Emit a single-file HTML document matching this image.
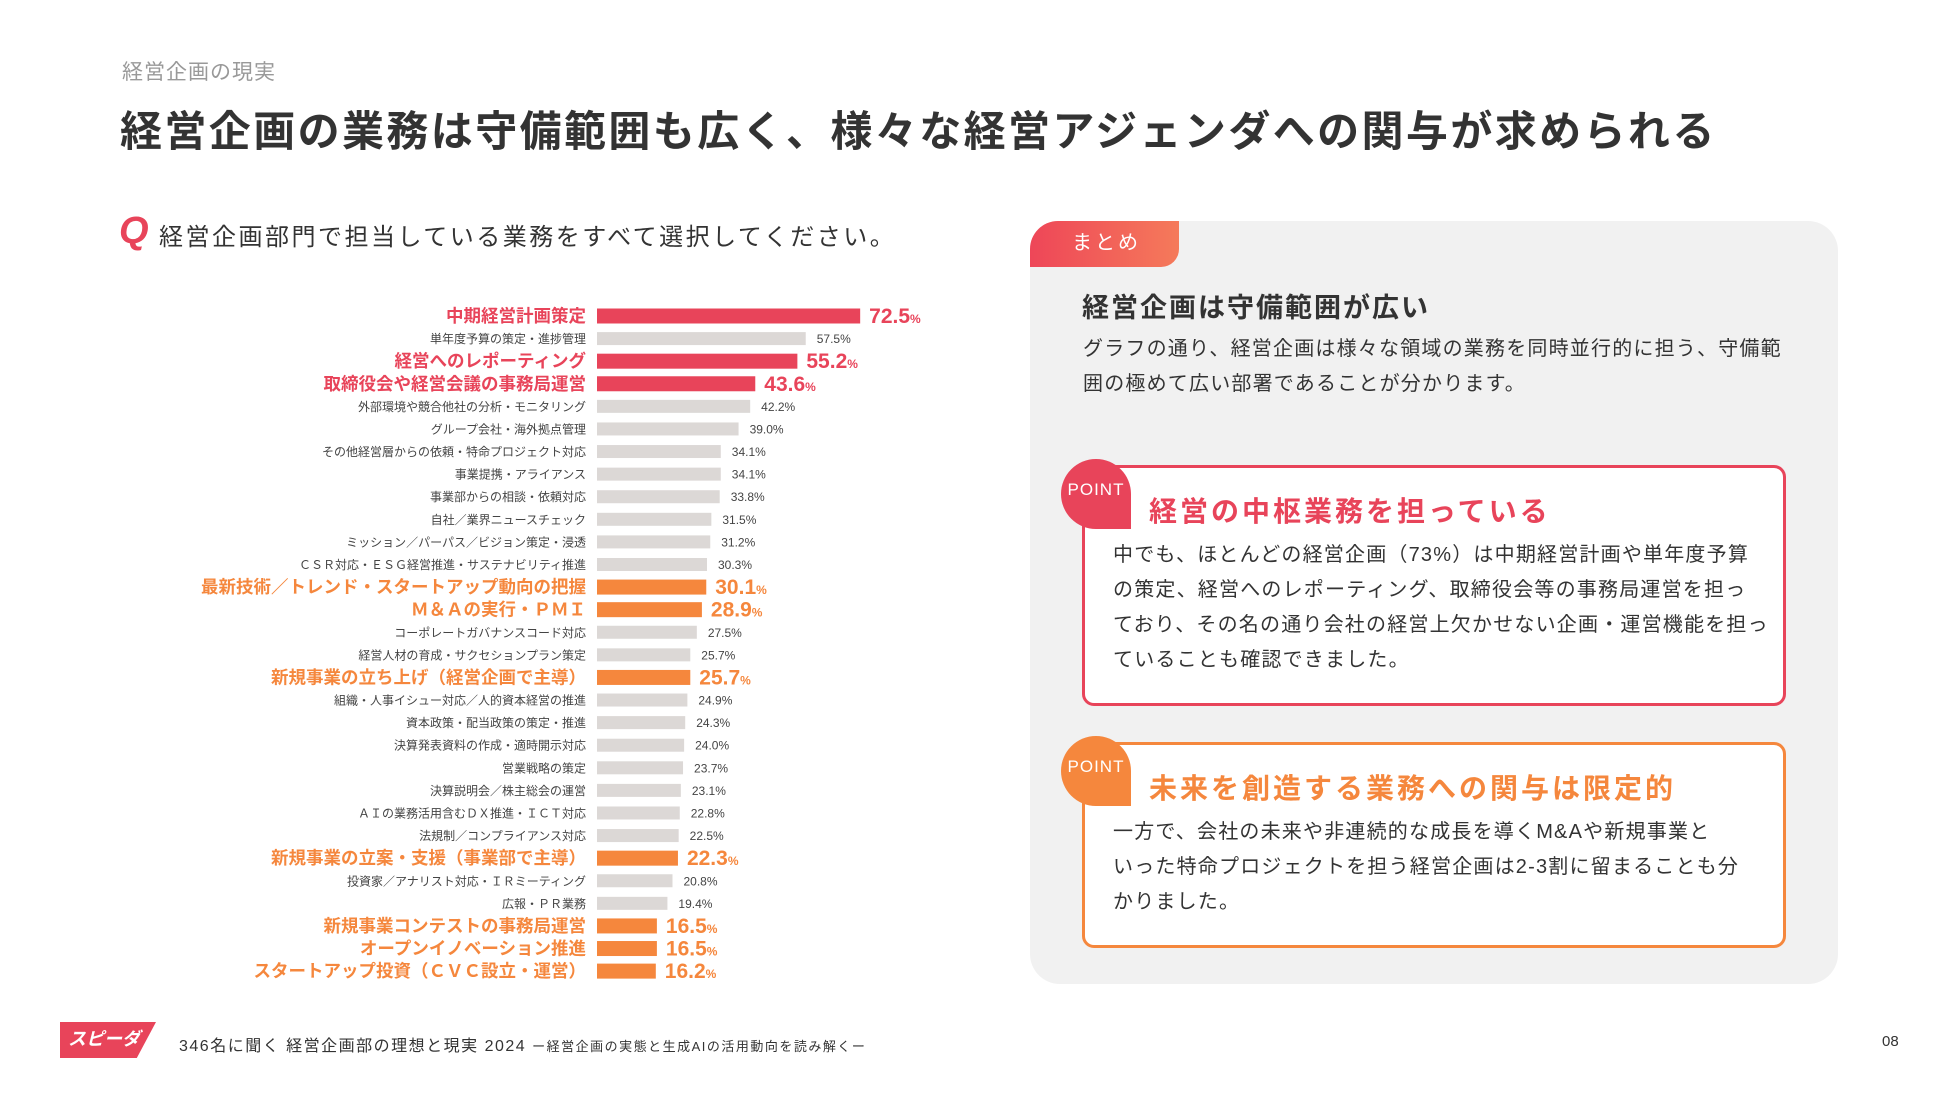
<!DOCTYPE html>
<html><head><meta charset="utf-8">
<style>
*{margin:0;padding:0;box-sizing:border-box}
body{width:1950px;height:1097px;background:#fff;position:relative;overflow:hidden;font-family:"Liberation Sans","Noto Sans CJK JP",sans-serif;color:#333}
.abs{position:absolute;white-space:nowrap}
.p{font-size:20px;line-height:35px;letter-spacing:1.2px;color:#333}
.badge{position:absolute;width:70px;height:70px;border-radius:50% 50% 0 50%;color:#fff;font-size:17px;text-align:center;line-height:62px;letter-spacing:1px}
</style></head><body>
<div class="abs" style="left:122px;top:56px;font-size:21px;color:#999;letter-spacing:1px">経営企画の現実</div>
<div class="abs" style="left:120px;top:98px;font-size:42px;font-weight:bold;color:#333;letter-spacing:2.4px">経営企画の業務は守備範囲も広く、様々な経営アジェンダへの関与が求められる</div>
<div class="abs" style="left:119px;top:210px;font-size:38px;font-weight:bold;color:#e8445a;font-style:italic">Q</div>
<div class="abs" style="left:159px;top:217px;font-size:24px;color:#333;letter-spacing:2.5px">経営企画部門で担当している業務をすべて選択してください。</div>

<svg id="chart" style="position:absolute;left:0;top:0" width="1000" height="1000"></svg>

<div style="position:absolute;left:1030px;top:221px;width:808px;height:763px;background:#f1f1f1;border-radius:30px"></div>
<div class="abs" style="left:1030px;top:221px;width:149px;height:46px;background:linear-gradient(90deg,#ee4658,#f57a5a);border-radius:28px 0 18px 0;color:#fff;font-size:20px;line-height:44px;padding-left:42px;letter-spacing:3px">まとめ</div>
<div class="abs" style="left:1082px;top:286px;font-size:27px;font-weight:bold;color:#333;letter-spacing:2px">経営企画は守備範囲が広い</div>
<div class="abs p" style="left:1083px;top:332px">グラフの通り、経営企画は様々な領域の業務を同時並行的に担う、守備範<br>囲の極めて広い部署であることが分かります。</div>

<div style="position:absolute;left:1082px;top:465px;width:704px;height:241px;background:#fff;border:3px solid #e8445a;border-radius:12px"></div>
<div class="badge" style="left:1061px;top:459px;background:#e8445a">POINT</div>
<div class="abs" style="left:1149px;top:490px;font-size:28px;font-weight:bold;color:#e8445a;letter-spacing:3px">経営の中枢業務を担っている</div>
<div class="abs p" style="left:1113px;top:538px">中でも、ほとんどの経営企画（73%）は中期経営計画や単年度予算<br>の策定、経営へのレポーティング、取締役会等の事務局運営を担っ<br>ており、その名の通り会社の経営上欠かせない企画・運営機能を担っ<br>ていることも確認できました。</div>

<div style="position:absolute;left:1082px;top:742px;width:704px;height:206px;background:#fff;border:3px solid #f5873d;border-radius:12px"></div>
<div class="badge" style="left:1061px;top:736px;background:#f5873d">POINT</div>
<div class="abs" style="left:1149px;top:767px;font-size:28px;font-weight:bold;color:#f5873d;letter-spacing:3px">未来を創造する業務への関与は限定的</div>
<div class="abs p" style="left:1113px;top:815px">一方で、会社の未来や非連続的な成長を導くM&amp;Aや新規事業と<br>いった特命プロジェクトを担う経営企画は2-3割に留まることも分<br>かりました。</div>

<div class="abs" style="left:60px;top:1022px;width:96px;height:36px;background:#e8445a;clip-path:polygon(0 0,100% 0,80% 100%,0 100%);color:#fff;font-size:18px;font-weight:bold;font-style:italic;line-height:34px;padding-left:8px">スピーダ</div>
<div class="abs" style="left:179px;top:1032px;font-size:16px;color:#333;letter-spacing:1.5px">346名に聞く 経営企画部の理想と現実 2024 <span style="font-size:13px">ー経営企画の実態と生成AIの活用動向を読み解くー</span></div>
<div class="abs" style="left:1882px;top:1033px;font-size:15px;color:#333">08</div>

<script>
const categories=["中期経営計画策定","単年度予算の策定・進捗管理","経営へのレポーティング","取締役会や経営会議の事務局運営","外部環境や競合他社の分析・モニタリング","グループ会社・海外拠点管理","その他経営層からの依頼・特命プロジェクト対応","事業提携・アライアンス","事業部からの相談・依頼対応","自社／業界ニュースチェック","ミッション／パーパス／ビジョン策定・浸透","ＣＳＲ対応・ＥＳＧ経営推進・サステナビリティ推進","最新技術／トレンド・スタートアップ動向の把握","Ｍ＆Ａの実行・ＰＭＩ","コーポレートガバナンスコード対応","経営人材の育成・サクセションプラン策定","新規事業の立ち上げ（経営企画で主導）","組織・人事イシュー対応／人的資本経営の推進","資本政策・配当政策の策定・推進","決算発表資料の作成・適時開示対応","営業戦略の策定","決算説明会／株主総会の運営","ＡＩの業務活用含むＤＸ推進・ＩＣＴ対応","法規制／コンプライアンス対応","新規事業の立案・支援（事業部で主導）","投資家／アナリスト対応・ＩＲミーティング","広報・ＰＲ業務","新規事業コンテストの事務局運営","オープンイノベーション推進","スタートアップ投資（ＣＶＣ設立・運営）"];
const values=[72.5,57.5,55.2,43.6,42.2,39.0,34.1,34.1,33.8,31.5,31.2,30.3,30.1,28.9,27.5,25.7,25.7,24.9,24.3,24.0,23.7,23.1,22.8,22.5,22.3,20.8,19.4,16.5,16.5,16.2];
const highlight=["r","","r","r","","","","","","","","","o","o","","","o","","","","","","","","o","","","o","o","o"];
const svg=document.getElementById('chart');
const NS='http://www.w3.org/2000/svg';
const x0=597,pxPer=3.63,y0=316,step=22.59;
const xs=v=>v*pxPer;
const ys=i=>y0+i*step;
const col={r:'#e8445a',o:'#f5873d','':'#dcd8d6'};
function mk(t,a){const e=document.createElementNS(NS,t);for(const k in a)e.setAttribute(k,a[k]);svg.appendChild(e);return e;}
categories.forEach((c,i)=>{
 const h=highlight[i],y=ys(i),v=values[i];
 const bh=h?15:13;
 const r=mk('rect',{x:x0,y:y-bh/2,width:xs(v),height:bh,fill:col[h]});
 
 
 const l=mk('text',{x:586,y:y+(h?6:4.5),'text-anchor':'end','font-size':h?17.5:12,'font-weight':h?'bold':'normal',fill:h?col[h]:'#444','font-family':'"Liberation Sans","Noto Sans CJK JP",sans-serif'});
 l.textContent=c;
 
 
 const t=mk('text',{x:x0+xs(v)+(h?9:11),y:y+(h?7:4.5),'font-size':h?21:12,'font-weight':h?'bold':'normal',fill:h?col[h]:'#444','font-family':'"Liberation Sans",sans-serif'});
 if(h){t.textContent=v.toFixed(1);const s=document.createElementNS(NS,'tspan');s.setAttribute('font-size','12');s.textContent='%';t.appendChild(s);}
 else t.textContent=v.toFixed(1)+'%';
 
 
});
</script>
</body></html>
